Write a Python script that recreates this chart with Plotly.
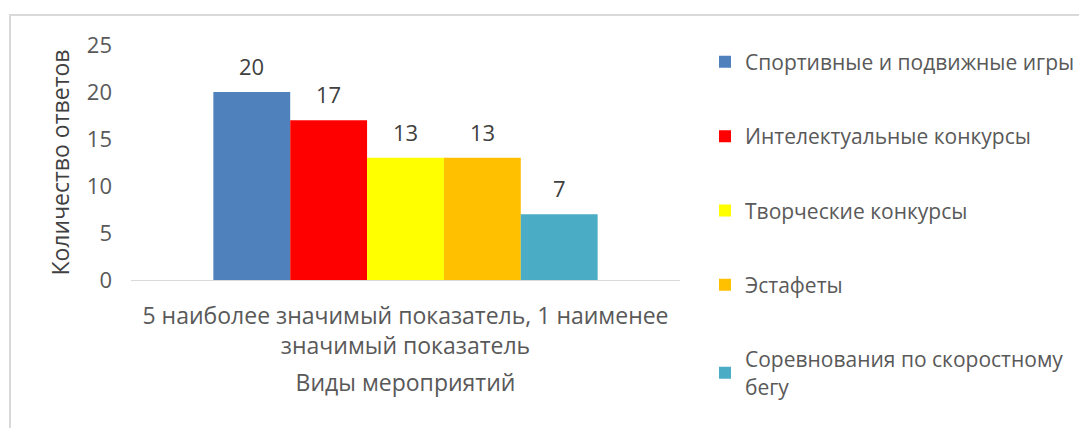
import plotly.graph_objects as go

category = ["5 наиболее значимый показатель, 1 наименее<br>значимый показатель"]
series_names = [
    "Спортивные и подвижные игры",
    "Интелектуальные конкурсы",
    "Творческие конкурсы",
    "Эстафеты",
    "Соревнования по скоростному<br>бегу",
]
values = [20, 17, 13, 13, 7]
colors = ["#4f81bd", "#ff0000", "#ffff00", "#ffc000", "#4bacc6"]

FONT = "Open Sans"
bargap = 0.3
n = len(values)
bw = (1 - bargap) / n

fig = go.Figure()
for i, (name, v, c) in enumerate(zip(series_names, values, colors)):
    fig.add_trace(go.Bar(
        x=category, y=[v], name=name, marker_color=c,
        marker_line_width=0, legendgroup=name,
    ))
    fig.add_annotation(
        x=-(1 - bargap) / 2 + bw * (i + 0.5), y=v, xref="x", yref="y",
        text=str(v), showarrow=False, yanchor="bottom", yshift=9,
        font=dict(family=FONT, size=22, color="#404040"),
    )

fig.update_layout(
    width=1079, height=428,
    margin=dict(l=131, r=399, t=45, b=148, autoexpand=False),
    paper_bgcolor="white", plot_bgcolor="white",
    barmode="group", bargap=bargap, bargroupgap=0,
    font=dict(family=FONT, size=20, color="#595959"),
    showlegend=True,
    legend=dict(
        x=(705 - 131) / 549, y=1.014, xanchor="left", yanchor="top",
        traceorder="grouped", tracegroupgap=44, maxheight=420,
        font=dict(family=FONT, size=21, color="#595959"),
        bgcolor="rgba(0,0,0,0)",
    ),
    xaxis=dict(
        showline=True, linecolor="#d9d9d9", linewidth=1,
        showgrid=False, ticks="",
        ticklabelstandoff=15,
        tickfont=dict(size=23, color="#595959"),
        title=dict(text="Виды мероприятий", font=dict(size=23, color="#595959"), standoff=15),
    ),
    yaxis=dict(
        range=[0, 25], tickvals=[0, 5, 10, 15, 20, 25],
        showline=False, showgrid=False, zeroline=False, ticks="",
        ticklabelstandoff=18,
        tickfont=dict(size=22, color="#595959"),
        title=dict(text="Количество ответов", font=dict(size=23, color="#404040"), standoff=10),
    ),
    shapes=[dict(
        type="rect", xref="paper", yref="paper",
        x0=(10 - 131) / 549, x1=(1100 - 131) / 549,
        y0=(280 - 460) / 235, y1=(280 - 15) / 235,
        line=dict(color="#d9d9d9", width=2), fillcolor="rgba(0,0,0,0)",
        layer="below",
    )],
)

fig.write_html(
    "out.html",
    config={"displayModeBar": False},
    post_script="document.body.style.margin='0';document.body.style.overflow='hidden';",
)
